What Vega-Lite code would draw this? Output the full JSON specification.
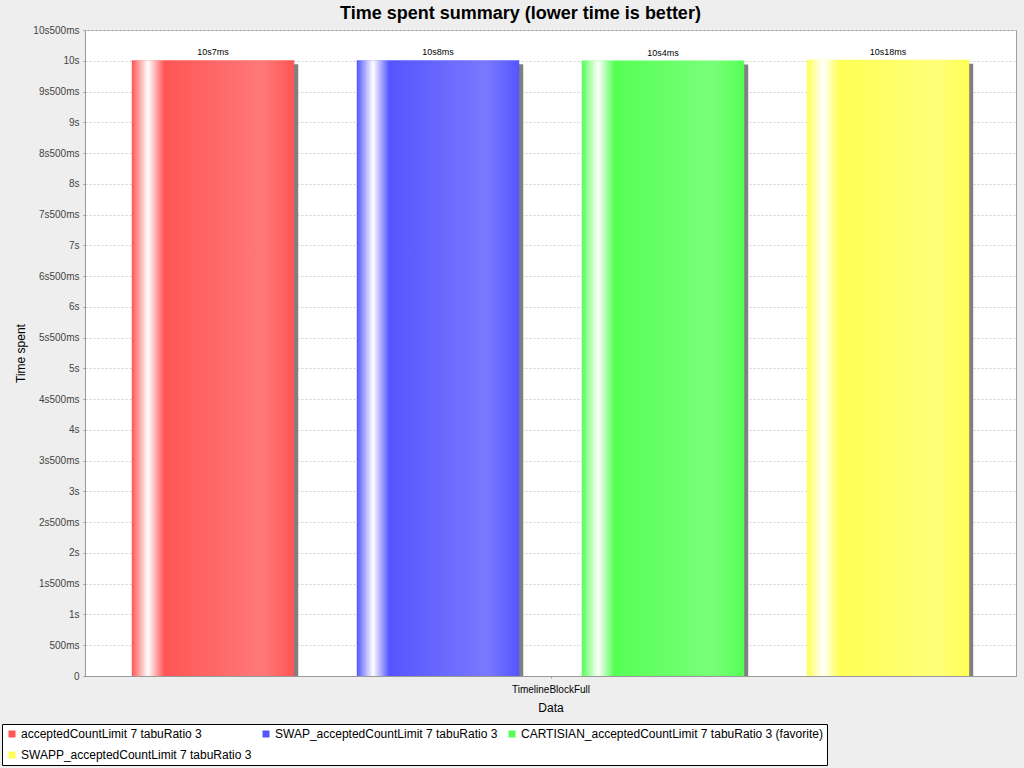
{
  "$schema": "https://vega.github.io/schema/vega-lite/v6.json",
  "autosize": "none",
  "width": 931,
  "height": 646,
  "padding": {"left": 85, "top": 30, "right": 8, "bottom": 92},
  "background": "#eeeeee",
  "title": {
    "text": "Time spent summary (lower time is better)",
    "font": "Liberation Sans",
    "fontSize": 18,
    "fontWeight": "bold",
    "color": "#000000",
    "anchor": "middle",
    "frame": "group",
    "dx": -30,
    "offset": 2
  },
  "config": {
    "view": {"fill": "#ffffff", "stroke": "#a0a0a0", "strokeWidth": 1},
    "axis": {
      "labelFont": "Liberation Sans",
      "titleFont": "Liberation Sans",
      "labelColor": "#444444",
      "titleColor": "#000000",
      "titleFontWeight": "normal",
      "domainColor": "#999999",
      "tickColor": "#999999"
    }
  },
  "data": {
    "values": [
      {"category": "TimelineBlockFull", "series": "acceptedCountLimit 7 tabuRatio 3", "time": 10007, "label": "10s7ms"},
      {"category": "TimelineBlockFull", "series": "SWAP_acceptedCountLimit 7 tabuRatio 3", "time": 10008, "label": "10s8ms"},
      {"category": "TimelineBlockFull", "series": "CARTISIAN_acceptedCountLimit 7 tabuRatio 3 (favorite)", "time": 10004, "label": "10s4ms"},
      {"category": "TimelineBlockFull", "series": "SWAPP_acceptedCountLimit 7 tabuRatio 3", "time": 10018, "label": "10s18ms"}
    ]
  },
  "encoding": {
    "y": {
      "field": "time",
      "type": "quantitative",
      "scale": {"domain": [0, 10500], "nice": false, "zero": true},
      "axis": {
        "title": "Time spent",
        "titleFontSize": 12,
        "titlePadding": 5,
        "labelFontSize": 10,
        "tickSize": 2,
        "labelPadding": 4,
        "values": [0, 500, 1000, 1500, 2000, 2500, 3000, 3500, 4000, 4500, 5000, 5500, 6000, 6500, 7000, 7500, 8000, 8500, 9000, 9500, 10000, 10500],
        "labelExpr": "datum.value == 0 ? '0' : (floor(datum.value / 1000) > 0 ? floor(datum.value / 1000) + 's' : '') + (datum.value % 1000 > 0 ? (datum.value % 1000) + 'ms' : '')",
        "grid": true,
        "gridColor": "#d0d0d0",
        "gridDash": [2, 2],
        "gridWidth": 1
      }
    }
  },
  "layer": [
    {
      "encoding": {
        "x": {
          "field": "series",
          "type": "nominal",
          "scale": {
            "domain": [
              "acceptedCountLimit 7 tabuRatio 3",
              "SWAP_acceptedCountLimit 7 tabuRatio 3",
              "CARTISIAN_acceptedCountLimit 7 tabuRatio 3 (favorite)",
              "SWAPP_acceptedCountLimit 7 tabuRatio 3"
            ],
            "paddingInner": 0.278,
            "paddingOuter": 0.208
          },
          "axis": null
        }
      },
      "layer": [
        {
          "mark": {"type": "bar", "color": "#808080", "xOffset": 4, "yOffset": 4, "clip": true}
        },
        {
          "mark": {"type": "bar"},
          "encoding": {
            "color": {
              "field": "series",
              "type": "nominal",
              "scale": {
                "domain": [
                  "acceptedCountLimit 7 tabuRatio 3",
                  "SWAP_acceptedCountLimit 7 tabuRatio 3",
                  "CARTISIAN_acceptedCountLimit 7 tabuRatio 3 (favorite)",
                  "SWAPP_acceptedCountLimit 7 tabuRatio 3"
                ],
                "range": ["#ff5555", "#5555ff", "#55ff55", "#ffff55"]
              },
              "legend": {
                "title": null,
                "orient": "none",
                "legendX": -83,
                "legendY": 694,
                "direction": "horizontal",
                "columns": 3,
                "gridAlign": "each",
                "columnPadding": 8,
                "rowPadding": 9,
                "padding": 4,
                "fillColor": "#ffffff",
                "strokeColor": "#000000",
                "symbolType": "square",
                "symbolSize": 49,
                "symbolStrokeWidth": 0,
                "symbolOpacity": 1,
                "labelFont": "Liberation Sans",
                "labelFontSize": 12,
                "labelColor": "#000000",
                "labelOffset": 3,
                "labelLimit": 400
              }
            }
          }
        },
        {
          "mark": {
            "type": "bar",
            "fill": {
              "gradient": "linear",
              "x1": 0, "y1": 0, "x2": 1, "y2": 0,
              "stops": [
                {"offset": 0, "color": "rgba(255,255,255,0)"},
                {"offset": 0.1, "color": "rgba(255,255,255,1)"},
                {"offset": 0.2, "color": "rgba(255,255,255,0)"},
                {"offset": 0.8, "color": "rgba(255,255,255,0.21)"},
                {"offset": 1, "color": "rgba(255,255,255,0)"}
              ]
            }
          }
        },
        {
          "mark": {"type": "text", "font": "Liberation Sans", "fontSize": 9, "color": "#000000", "baseline": "bottom", "dy": -3},
          "encoding": {"text": {"field": "label", "type": "nominal"}}
        }
      ]
    },
    {
      "mark": {"type": "point", "opacity": 0},
      "encoding": {
        "x": {
          "field": "category",
          "type": "nominal",
          "axis": {
            "orient": "bottom",
            "title": "Data",
            "titleFontSize": 12,
            "titlePadding": 8,
            "labelFontSize": 10,
            "labelColor": "#000000",
            "labelAngle": 0,
            "tickSize": 2,
            "labelPadding": 6
          }
        }
      }
    }
  ],
  "resolve": {"scale": {"x": "independent"}, "axis": {"x": "independent"}}
}
